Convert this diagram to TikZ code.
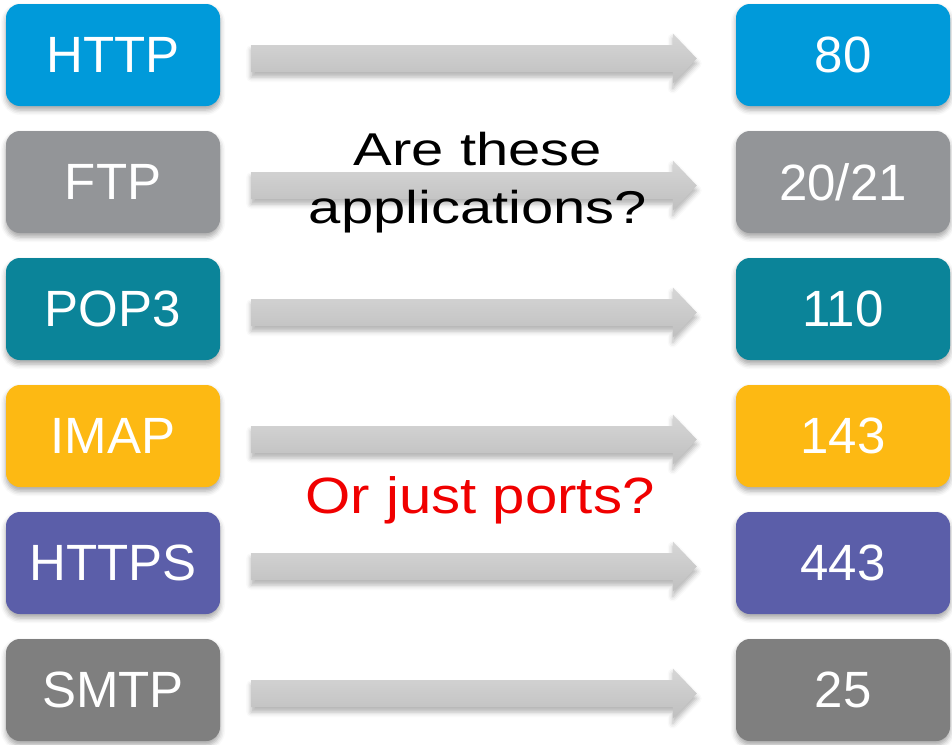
\documentclass[tikz,border=0pt]{standalone}
\usepackage{fontspec}
\setmainfont{Liberation Sans}
\usetikzlibrary{calc,shadows.blur}

\definecolor{httpblue}{HTML}{009ADA}
\definecolor{ftpgrey}{HTML}{939598}
\definecolor{popteal}{HTML}{0B8499}
\definecolor{imapgold}{HTML}{FDB913}
\definecolor{httpspurple}{HTML}{5B5EA9}
\definecolor{smtpgrey}{HTML}{7F7F7F}
\definecolor{questionred}{HTML}{F00000}

\tikzset{
  protobox/.style={
    rounded corners=14pt, minimum width=214pt, minimum height=102pt,
    inner sep=0pt, text=white, font=\fontsize{51}{60}\selectfont,
    blur shadow={shadow xshift=0pt, shadow yshift=-4pt,
                 shadow blur radius=5pt, shadow opacity=35}},
  portarrow/.style={
    top color=black!16, bottom color=black!25, draw=none,
    blur shadow={shadow xshift=0pt, shadow yshift=-5pt,
                 shadow blur radius=5pt, shadow opacity=30}},
}

% block arrow from the right edge of one box to the left edge of another
\newcommand\maparrow[2]{%
  \path[portarrow]
    ($(#1.east)+(31,-10)$) -- ($(#2.west)+(-63,-10)$)
    -- ($(#2.west)+(-63,-21.5)$) -- ($(#2.west)+(-39,3.5)$)
    -- ($(#2.west)+(-63,28.5)$) -- ($(#2.west)+(-63,17)$)
    -- ($(#1.east)+(31,17)$) -- cycle;}

\begin{document}
\begin{tikzpicture}[x=1pt,y=-1pt]
  \useasboundingbox (0,0) rectangle (952,744);

  % protocols (left) and their ports (right)
  \node[protobox, fill=httpblue]    (p1) at (113,55)  {HTTP};
  \node[protobox, fill=ftpgrey]     (p2) at (113,182) {FTP};
  \node[protobox, fill=popteal]     (p3) at (113,309) {POP3};
  \node[protobox, fill=imapgold]    (p4) at (113,436) {IMAP};
  \node[protobox, fill=httpspurple] (p5) at (113,563) {HTTPS};
  \node[protobox, fill=smtpgrey]    (p6) at (113,690) {SMTP};

  \node[protobox, fill=httpblue]    (n1) at (843,55)  {80};
  \node[protobox, fill=ftpgrey]     (n2) at (843,182) {20/21};
  \node[protobox, fill=popteal]     (n3) at (843,309) {110};
  \node[protobox, fill=imapgold]    (n4) at (843,436) {143};
  \node[protobox, fill=httpspurple] (n5) at (843,563) {443};
  \node[protobox, fill=smtpgrey]    (n6) at (843,690) {25};

  \foreach \i in {1,...,6} { \maparrow{p\i}{n\i} }

  % the two questions
  \node[anchor=base, inner sep=0pt,
        font=\fontsize{46}{58}\selectfont] (q1a) at (478,165)
    {\scalebox{1.26}[1]{Are these}};
  \node[anchor=base, inner sep=0pt,
        font=\fontsize{46}{58}\selectfont] (q1b) at (478,223)
    {\scalebox{1.26}[1]{applications?}};
  \node[anchor=base, inner sep=0pt, text=questionred,
        font=\fontsize{51}{60}\selectfont] (q2) at (480,513)
    {\scalebox{1.14}[1]{Or just ports?}};
\end{tikzpicture}
\end{document}
